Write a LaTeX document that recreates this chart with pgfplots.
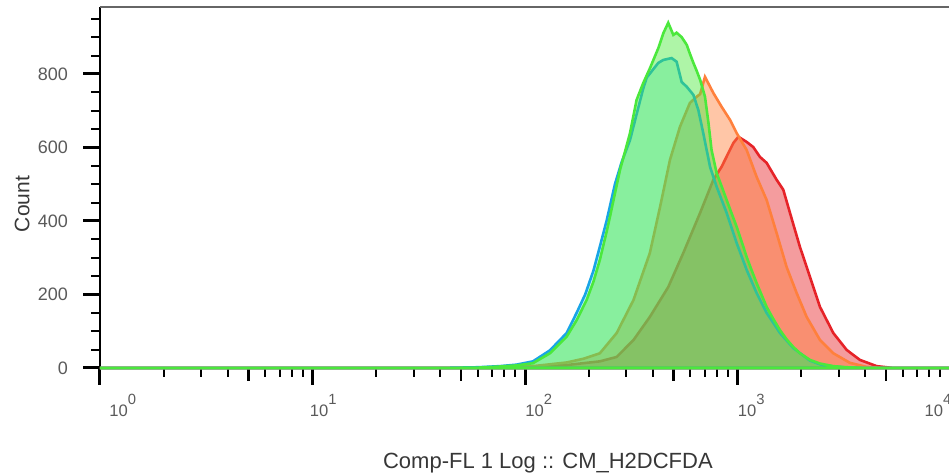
\documentclass[border=0pt]{standalone}
\usepackage{pgfplots}
\pgfplotsset{compat=1.18}
\usepackage{fontspec}
\setmainfont{Liberation Sans}
\definecolor{cRed}{RGB}{230,35,40}
\definecolor{cOra}{RGB}{255,128,60}
\definecolor{cBlu}{RGB}{25,165,230}
\definecolor{cBluF}{RGB}{0,220,200}
\definecolor{cGre}{RGB}{75,232,60}
\definecolor{tickgray}{RGB}{90,90,90}
\definecolor{labgray}{RGB}{55,55,55}
\newcommand{\tl}[2]{\hspace*{#1}10\raisebox{6pt}{\fontsize{7.4}{8}\selectfont #2}}
\newcommand{\yl}[1]{#1\hspace*{4pt}}
\begin{document}
\begin{tikzpicture}
\useasboundingbox (-50pt,-53pt) rectangle (424.5pt,184pt);
\begin{axis}[
  at={(0pt,0pt)}, anchor=south west,
  scale only axis, width=425pt, height=180.5pt,
  xmode=log, xmin=1, xmax=10000, ymin=0, ymax=982,
  axis lines*=left,
  axis line style={black, line width=1.2pt},
  tick align=outside,
  major tick length=8.5pt, minor tick length=4.5pt,
  xtick={1,10,100,1000,10000},
  xticklabels={{\tl{4.5pt}{0}},{\tl{-1.5pt}{1}},{\tl{0pt}{2}},{\tl{0pt}{3}},{\tl{-13.5pt}{4}}},
  every major tick/.append style={black, line width=1.5pt},
  every minor tick/.append style={black, line width=1pt},
  extra x ticks={5,50,500,5000},
  extra x tick labels={},
  extra x tick style={major tick length=6.5pt, every major tick/.append style={line width=1.2pt}},
  ytick={0,200,400,600,800},
  yticklabels={\yl{0},\yl{200},\yl{400},\yl{600},\yl{800}},
  minor ytick={50,100,150,250,300,350,450,500,550,650,700,750,850,900,950},
  xticklabel style={font=\fontsize{8.3}{9}\selectfont, text=tickgray, anchor=base west, inner xsep=0pt, yshift=-16pt},
  yticklabel style={font=\fontsize{9}{10}\selectfont, text=tickgray, anchor=east},
  xlabel={Comp-FL 1 Log :: CM\_H2DCFDA},
  ylabel={Count},
  xlabel style={font=\fontsize{11}{13}\selectfont, text=labgray, at={(axis description cs:0.527,0)}, anchor=base, yshift=-50.5pt},
  ylabel style={font=\fontsize{10.5}{12}\selectfont, text=labgray, at={(axis description cs:-0.083,0.454)}, anchor=base},
  clip=false,
]
% red
\addplot[draw=cRed, line width=1.3pt, fill=cRed, fill opacity=0.45, draw opacity=1] coordinates {
(1,0) (60,0) (76,1) (109,3) (157,8) (225,18) (270,30) (324,76) (387,139) (472,220) (556,313) (667,422) (770,512) (841,547) (956,612) (1009,629) (1104,615) (1186,601) (1276,574) (1371,558) (1528,512) (1642,485) (1766,422) (1968,329) (2193,248) (2445,166) (2825,95) (3266,49) (3768,22) (4518,5) (5408,0) (10000,0)
} \closedcycle;
% orange
\addplot[draw=cOra, line width=1.3pt, fill=cOra, fill opacity=0.45, draw opacity=1] coordinates {
(1,0) (55,0) (76,2) (109,5) (157,15) (188,25) (225,40) (270,95) (324,185) (387,313) (432,438) (481,566) (536,656) (597,721) (643,738) (667,745) (703,792) (770,748) (841,711) (922,675) (991,639) (1104,593) (1230,520) (1371,457) (1528,367) (1702,275) (1898,204) (2115,139) (2445,76) (2825,40) (3380,14) (4055,3) (4853,0) (10000,0)
} \closedcycle;
% blue
\addplot[draw=cBlu, line width=1.3pt, fill=cBluF, fill opacity=0.27, draw opacity=1] coordinates {
(1,0) (40,0) (60,2) (76,5) (91,9) (109,18) (131,48) (157,95) (175,150) (192,200) (210,265) (225,330) (242,400) (251,440) (265,500) (285,560) (312,620) (335,690) (360,760) (374,790) (424,830) (448,838) (490,843) (517,833) (546,778) (577,765) (620,743) (654,702) (690,639) (743,547) (798,493) (889,422) (991,340) (1104,267) (1230,204) (1371,150) (1585,95) (1832,54) (2193,20) (2445,10) (2825,4) (3266,1) (4055,0) (10000,0)
} \closedcycle;
% green
\addplot[draw=cGre, line width=1.3pt, fill=cGre, fill opacity=0.45, draw opacity=1] coordinates {
(1,0) (40,0) (60,1) (76,4) (91,7) (109,13) (131,40) (157,85) (175,130) (195,185) (210,235) (225,294) (242,370) (251,411) (265,475) (280,539) (296,590) (312,639) (335,729) (360,775) (387,815) (402,838) (424,870) (448,911) (472,939) (499,906) (517,912) (546,900) (577,879) (597,855) (620,830) (643,808) (667,784) (703,738) (730,667) (755,593) (798,530) (841,495) (889,457) (939,420) (991,384) (1047,343) (1104,302) (1167,265) (1230,231) (1300,198) (1371,166) (1475,133) (1585,103) (1702,78) (1832,57) (1968,40) (2193,22) (2445,12) (2825,5) (3266,2) (4055,0) (10000,0)
} \closedcycle;
\draw[gray!80!black, line width=0.7pt] (rel axis cs:0,1) -- (rel axis cs:1,1);
\end{axis}
\end{tikzpicture}
\end{document}
